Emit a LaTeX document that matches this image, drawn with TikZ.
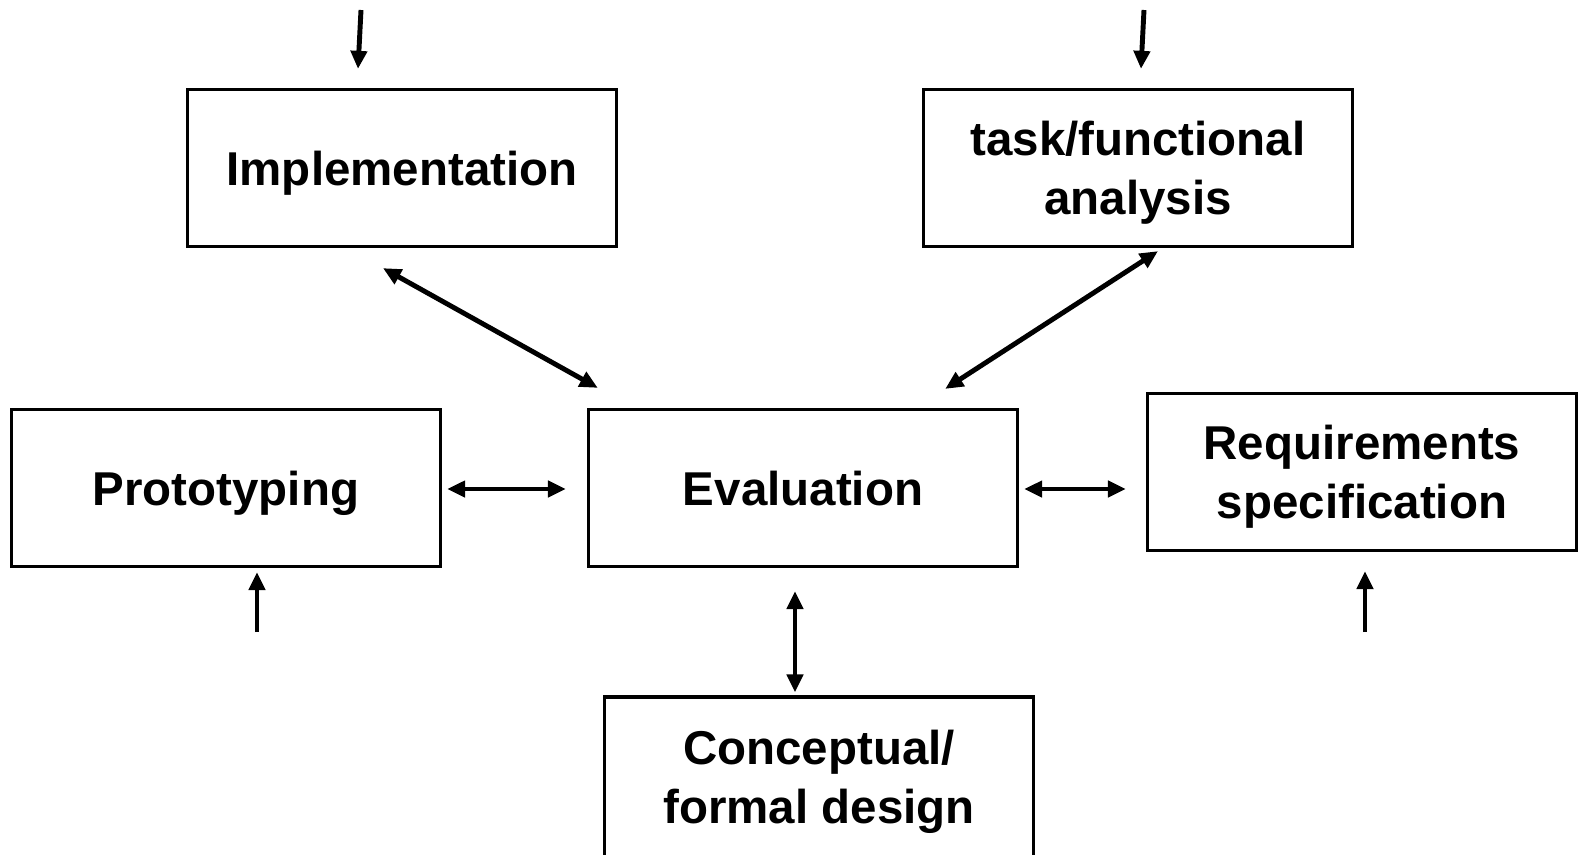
\documentclass[tikz,border=0pt]{standalone}
\usepackage{fontspec}
\setmainfont{Liberation Sans}
\usetikzlibrary{arrows.meta}

\tikzset{
  stage/.style={draw,line width=0.9pt,minimum width=4.29cm,minimum height=1.57cm,
    align=center,font=\fontsize{13.5}{16.8}\selectfont\bfseries,inner sep=0pt,text depth=0pt},
  flow/.style={line width=1.4pt,-{Triangle[length=0.18cm,width=0.16cm]}},
  twoway/.style={line width=1.4pt,{Triangle[length=0.18cm,width=0.16cm]}-{Triangle[length=0.18cm,width=0.16cm]}}
}

\begin{document}
\begin{tikzpicture}[x=0.01cm,y=-0.01cm]
\useasboundingbox (0,0) rectangle (1581,854);
\clip (0,0) rectangle (1581,854);
\node[stage] (impl) at (402,168) {Implementation};
\node[stage] (task) at (1138,168) {task/functional\\analysis};
\node[stage] (proto) at (226,488) {Prototyping};
\node[stage] (eval) at (803,488) {Evaluation};
\node[stage] (req) at (1362,472) {Requirements\\specification};
\node[stage,minimum height=1.6cm] (concept) at (819,777) {Conceptual/\\formal design};
% free ends of the entry arrows
\coordinate (inimpl) at (361,10);
\coordinate (intask) at (1144,10);
\coordinate (inproto) at (257,632);
\coordinate (inreq) at (1365,632);
\draw[flow] (inimpl) -- ([shift={(-44,-19)}]impl.north);
\draw[flow] (intask) -- ([shift={(3,-19)}]task.north);
\draw[flow] (inproto) -- ([shift={(31,4)}]proto.south);
\draw[flow] (inreq) -- ([shift={(3,19)}]req.south);
% links to evaluation
\draw[twoway] ([shift={(-19,20)}]impl.south) -- ([shift={(11,-20)}]eval.north west);
\draw[twoway] ([shift={(20,3)}]task.south) -- ([shift={(-74,-19)}]eval.north east);
\draw[twoway] ([shift={(5,1)}]proto.east) -- ([shift={(-21,1)}]eval.west);
\draw[twoway] ([shift={(5,1)}]eval.east) -- ([shift={(-20,17)}]req.west);
\draw[twoway] ([shift={(-8,23)}]eval.south) -- ([shift={(-24,-3)}]concept.north);
\end{tikzpicture}
\end{document}
